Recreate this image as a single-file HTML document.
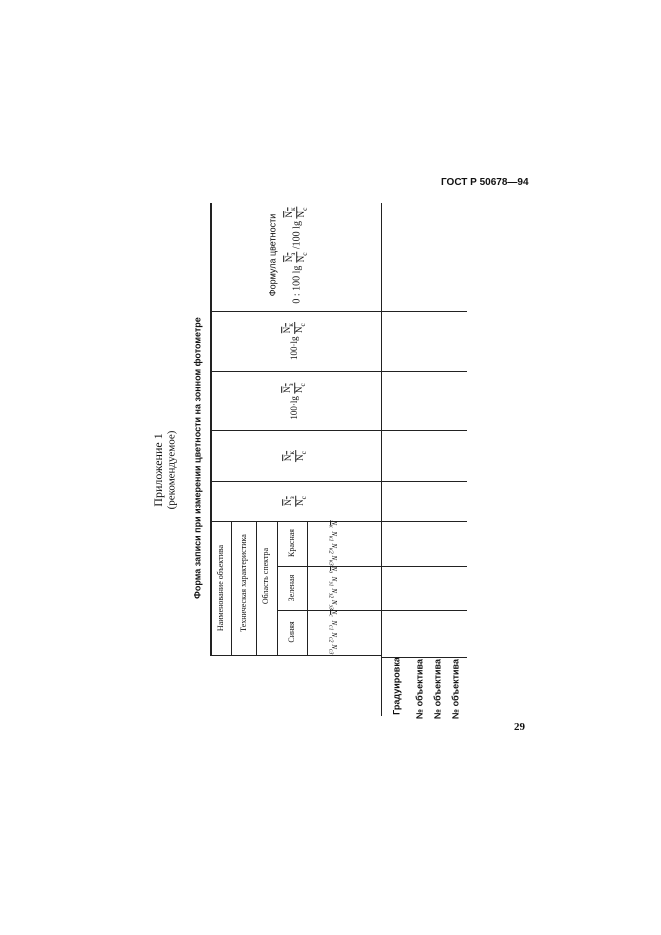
<!DOCTYPE html>
<html><head><meta charset="utf-8"><style>
html,body{margin:0;padding:0;background:#fff;}
body{width:661px;height:935px;position:relative;overflow:hidden;font-family:"Liberation Serif","DejaVu Serif",serif;color:#111;}
.h{position:absolute;height:1px;background:#222;}
.v{position:absolute;width:1px;background:#222;}
.r{position:absolute;white-space:nowrap;transform:translate(-50%,-50%) rotate(-90deg);line-height:1;}
.rr{position:absolute;white-space:nowrap;transform:translate(-50%,-50%) rotate(90deg);line-height:1;}
.fr{display:inline-flex;flex-direction:column;align-items:center;vertical-align:middle;font-size:9px;}
.fr span:first-child{border-bottom:1px solid #222;padding:0 1px;}
.ov{text-decoration:overline;}
</style></head><body>
<div style="position:absolute;left:441px;top:177px;font-family:'Liberation Sans',sans-serif;font-weight:bold;font-size:10px;">ГОСТ Р 50678—94</div>
<div style="position:absolute;left:514px;top:721px;font-weight:bold;font-size:11px;">29</div>

<div class="r" style="left:158px;top:470px;font-size:12px;">Приложение 1</div>
<div class="r" style="left:172px;top:470px;font-size:11px;">(рекомендуемое)</div>
<div class="r" style="left:198px;top:458px;font-size:9px;font-weight:bold;font-family:'Liberation Sans',sans-serif;">Форма записи при измерении цветности на зонном фотометре</div>

<div class="v" style="left:210px;top:203px;height:453px;width:2px;"></div>
<div class="v" style="left:381px;top:203px;height:513px;"></div>
<div class="v" style="left:231px;top:521px;height:134px;"></div>
<div class="v" style="left:256px;top:521px;height:134px;"></div>
<div class="v" style="left:277px;top:521px;height:134px;"></div>
<div class="v" style="left:307px;top:521px;height:134px;"></div>
<div class="h" style="left:210px;top:311px;width:257px;"></div>
<div class="h" style="left:210px;top:371px;width:257px;"></div>
<div class="h" style="left:210px;top:430px;width:257px;"></div>
<div class="h" style="left:210px;top:481px;width:257px;"></div>
<div class="h" style="left:210px;top:521px;width:257px;"></div>
<div class="h" style="left:277px;top:566px;width:190px;"></div>
<div class="h" style="left:277px;top:610px;width:190px;"></div>
<div class="h" style="left:210px;top:655px;width:172px;"></div>
<div class="h" style="left:382px;top:657px;width:85px;"></div>

<div class="r" style="left:273px;top:255px;font-size:9px;font-family:'Liberation Sans',sans-serif;">Формула цветности</div>
<div class="r" style="left:297px;top:255px;font-size:10px;">0 : 100 lg <span class="fr"><span class="ov">N<sub>з</sub></span><span>N<sub>c</sub></span></span> /100 lg <span class="fr"><span class="ov">N<sub>к</sub></span><span>N<sub>c</sub></span></span></div>
<div class="r" style="left:295px;top:341px;font-size:9px;">100·lg <span class="fr"><span class="ov">N<sub>к</sub></span><span>N<sub>c</sub></span></span></div>
<div class="r" style="left:295px;top:401px;font-size:9px;">100·lg <span class="fr"><span class="ov">N<sub>з</sub></span><span>N<sub>c</sub></span></span></div>
<div class="r" style="left:296px;top:456px;font-size:9px;"><span class="fr"><span class="ov">N<sub>к</sub></span><span>N<sub>c</sub></span></span></div>
<div class="r" style="left:296px;top:501px;font-size:9px;"><span class="fr"><span class="ov">N<sub>з</sub></span><span>N<sub>c</sub></span></span></div>

<div class="r" style="left:221px;top:588px;font-size:8px;">Наименование объектива</div>
<div class="r" style="left:244px;top:583px;font-size:8px;">Техническая характеристика</div>
<div class="r" style="left:266px;top:576px;font-size:8px;">Область спектра</div>
<div class="r" style="left:292px;top:543px;font-size:8px;">Красная</div>
<div class="r" style="left:292px;top:588px;font-size:8px;">Зеленая</div>
<div class="r" style="left:292px;top:632px;font-size:8px;">Синяя</div>
<div class="rr" style="left:332px;top:543px;font-size:7px;font-style:italic;"><u>N</u><sub>к</sub>&nbsp; N<sub>к1</sub> N<sub>к2</sub> N<sub>к3</sub></div>
<div class="rr" style="left:332px;top:588px;font-size:7px;font-style:italic;"><u>N</u><sub>з</sub>&nbsp; N<sub>з1</sub> N<sub>з2</sub> N<sub>з3</sub></div>
<div class="rr" style="left:332px;top:632px;font-size:7px;font-style:italic;"><u>N</u><sub>c</sub>&nbsp; N<sub>c1</sub> N<sub>c2</sub> N<sub>c3</sub></div>

<div class="r" style="left:397px;top:686px;font-size:9px;font-weight:bold;font-family:'Liberation Sans',sans-serif;">Градуировка</div>
<div class="r" style="left:420px;top:689px;font-size:9px;font-weight:bold;font-family:'Liberation Sans',sans-serif;">№ объектива</div>
<div class="r" style="left:438px;top:689px;font-size:9px;font-weight:bold;font-family:'Liberation Sans',sans-serif;">№ объектива</div>
<div class="r" style="left:456px;top:689px;font-size:9px;font-weight:bold;font-family:'Liberation Sans',sans-serif;">№ объектива</div>
</body></html>
